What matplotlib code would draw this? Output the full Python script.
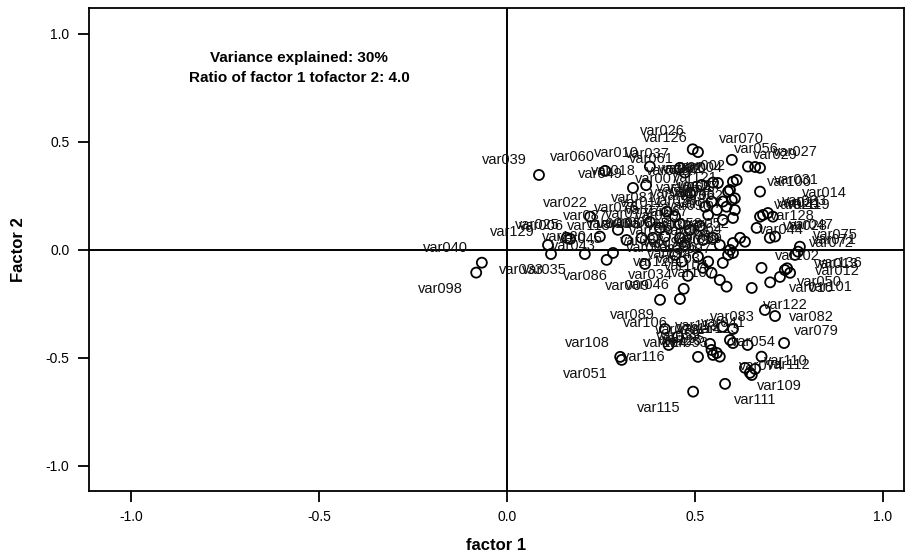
import matplotlib
matplotlib.use("Agg")
import matplotlib.pyplot as plt

plt.rcParams['font.family'] = ['Liberation Sans', 'DejaVu Sans']

names = ["var039", "var040", "var098", "var129", "var033", "var025", "var022", "var006",
         "var120", "var060", "var010", "var061", "var037", "var026", "var126", "var070",
         "var056", "var029", "var027", "var002", "var004", "var068", "var032", "var080",
         "var049", "var100", "var007", "var031", "var121", "var024", "var105", "var017",
         "var014", "var065", "var048", "var062", "var081", "var011", "var038", "var093",
         "var090", "var057", "var020", "var021", "var023", "var119", "var128", "var028",
         "var047", "var075", "var071", "var072", "var052", "var044", "var118", "var003",
         "var005", "var008", "var015", "var019", "var030", "var058", "var063", "var064",
         "var066", "var067", "var069", "var073", "var076", "var077", "var087", "var035",
         "var043", "var045", "var086", "var088", "var091", "var092", "var094", "var096",
         "var097", "var099", "var059", "var102", "var013", "var136", "var012", "var050",
         "var127", "var103", "var104", "var107", "var016", "var101", "var009", "var046",
         "var034", "var089", "var106", "var108", "var083", "var041", "var113", "var114",
         "var082", "var122", "var079", "var054", "var123", "var074", "var110", "var078",
         "var124", "var055", "var095", "var053", "var125", "var115", "var111", "var112",
         "var109", "var051", "var116", "var018"]

factor1 = [0.085, -0.067, -0.082, 0.109, 0.117, 0.168, 0.221, 0.159,
           0.247, 0.261, 0.380, 0.473, 0.460, 0.494, 0.508, 0.598,
           0.641, 0.660, 0.673, 0.611, 0.601, 0.518, 0.548, 0.561,
           0.335, 0.593, 0.487, 0.673, 0.588, 0.598, 0.544, 0.527,
           0.606, 0.574, 0.584, 0.606, 0.425, 0.447, 0.535, 0.558,
           0.574, 0.601, 0.673, 0.681, 0.694, 0.707, 0.664, 0.699,
           0.713, 0.779, 0.774, 0.766, 0.620, 0.633, 0.318, 0.358,
           0.388, 0.420, 0.460, 0.473, 0.521, 0.548, 0.566, 0.601,
           0.593, 0.513, 0.487, 0.460, 0.380, 0.407, 0.295, 0.207,
           0.265, 0.282, 0.367, 0.447, 0.465, 0.508, 0.521, 0.535,
           0.574, 0.588, 0.601, 0.677, 0.739, 0.753, 0.745, 0.726,
           0.481, 0.544, 0.566, 0.584, 0.651, 0.700, 0.407, 0.460,
           0.470, 0.420, 0.455, 0.301, 0.574, 0.601, 0.593, 0.601,
           0.713, 0.686, 0.737, 0.677, 0.640, 0.633, 0.646, 0.540,
           0.508, 0.544, 0.558, 0.566, 0.548, 0.495, 0.580, 0.660,
           0.651, 0.305, 0.430, 0.370]

factor2 = [0.347, -0.059, -0.105, 0.023, -0.019, 0.051, 0.154, 0.056,
           0.062, 0.366, 0.386, 0.358, 0.380, 0.466, 0.453, 0.417,
           0.386, 0.384, 0.380, 0.324, 0.316, 0.301, 0.312, 0.310,
           0.287, 0.278, 0.264, 0.270, 0.270, 0.231, 0.224, 0.200,
           0.239, 0.224, 0.200, 0.185, 0.177, 0.154, 0.162, 0.185,
           0.139, 0.148, 0.154, 0.162, 0.171, 0.154, 0.102, 0.056,
           0.062, 0.015, -0.008, -0.023, 0.056, 0.038, 0.046, 0.056,
           0.056, 0.062, 0.056, 0.023, 0.046, 0.056, 0.023, 0.032,
           0.000, 0.111, 0.093, 0.120, 0.130, 0.102, 0.093, -0.019,
           -0.046, -0.014, -0.065, -0.023, -0.054, -0.031, -0.083, -0.054,
           -0.060, -0.023, -0.014, -0.083, -0.093, -0.106, -0.085, -0.125,
           -0.120, -0.106, -0.139, -0.170, -0.176, -0.150, -0.231, -0.227,
           -0.180, -0.366, -0.401, -0.495, -0.356, -0.366, -0.417, -0.431,
           -0.306, -0.278, -0.431, -0.494, -0.440, -0.546, -0.569, -0.435,
           -0.495, -0.463, -0.477, -0.494, -0.486, -0.656, -0.620, -0.551,
           -0.579, -0.509, -0.440, 0.300]

# label placement (pixel offsets of the label centre from its point)
default_left = (-33, 14)
default_right = (36, 12)
label_offsets = {
    "var098": (-36, -16), "var040": (-36, 15), "var039": (-35, 15),
    "var051": (-36, -14), "var115": (-34, -16), "var111": (30, -16),
    "var109": (28, -11), "var112": (34, 4), "var074": (16, 2),
    "var082": (36, -1), "var079": (32, 12), "var054": (-8, 15),
    "var116": (-25, -12), "var129": (-36, 13), "var022": (-25, 14),
    "var006": (-25, 12), "var033": (-30, -16), "var035": (-40, -16),
    "var086": (-60, -12), "var120": (-35, 0), "var118": (-38, 14),
    "var026": (-30, 18), "var070": (10, 21), "var056": (8, 18),
    "var027": (35, 16), "var029": (20, 12), "var100": (60, 8),
    "var014": (90, 5), "var012": (50, -3), "var136": (50, 10),
    "var013": (52, 6), "var101": (60, -5), "var016": (60, 0),
    "var050": (40, -5), "var122": (20, 5), "var123": (-30, 16),
    "var041": (-10, 6), "var083": (10, 10),
}

fig = plt.figure(figsize=(9.06, 5.54), dpi=100)
ax = fig.add_axes([89/906, 1-491/554, 815/906, 483/554])

ax.set_xlim(-1.112, 1.056)
ax.set_ylim(-1.116, 1.12)

ax.axhline(0, color='black', lw=1.4, zorder=1)
ax.axvline(0, color='black', lw=1.4, zorder=1)

ax.scatter(factor1, factor2, s=52, facecolors='none', edgecolors='black',
           linewidths=1.3, zorder=3)

for n, xv, yv in zip(names, factor1, factor2):
    if n in label_offsets:
        off = label_offsets[n]
    elif xv > 0.62:
        off = default_right
    else:
        off = default_left
    ax.annotate(n, (xv, yv), xytext=off, textcoords='offset pixels',
                ha='center', va='center', fontsize=10.5, color='#111111', zorder=4)

ax.text(-0.553, 0.889, "Variance explained: 30%", ha='center', va='center',
        fontsize=11, fontweight='bold')
ax.text(-0.553, 0.796, "Ratio of factor 1 tofactor 2: 4.0", ha='center', va='center',
        fontsize=11, fontweight='bold')

ticks = [-1.0, -0.5, 0.0, 0.5, 1.0]
ax.set_xticks(ticks)
ax.set_yticks(ticks)
ax.set_xticklabels([f"{t:.1f}" for t in ticks])
ax.set_yticklabels([f"{t:.1f}" for t in ticks])
ax.tick_params(direction='out', length=8, width=1.3, labelsize=10, pad=6)

for sp in ax.spines.values():
    sp.set_linewidth(1.3)

ax.set_xlabel("factor 1", fontsize=12, fontweight='bold', labelpad=10)
ax.set_ylabel("Factor 2", fontsize=12, fontweight='bold', labelpad=14)

fig.savefig("out.png", dpi=100)
